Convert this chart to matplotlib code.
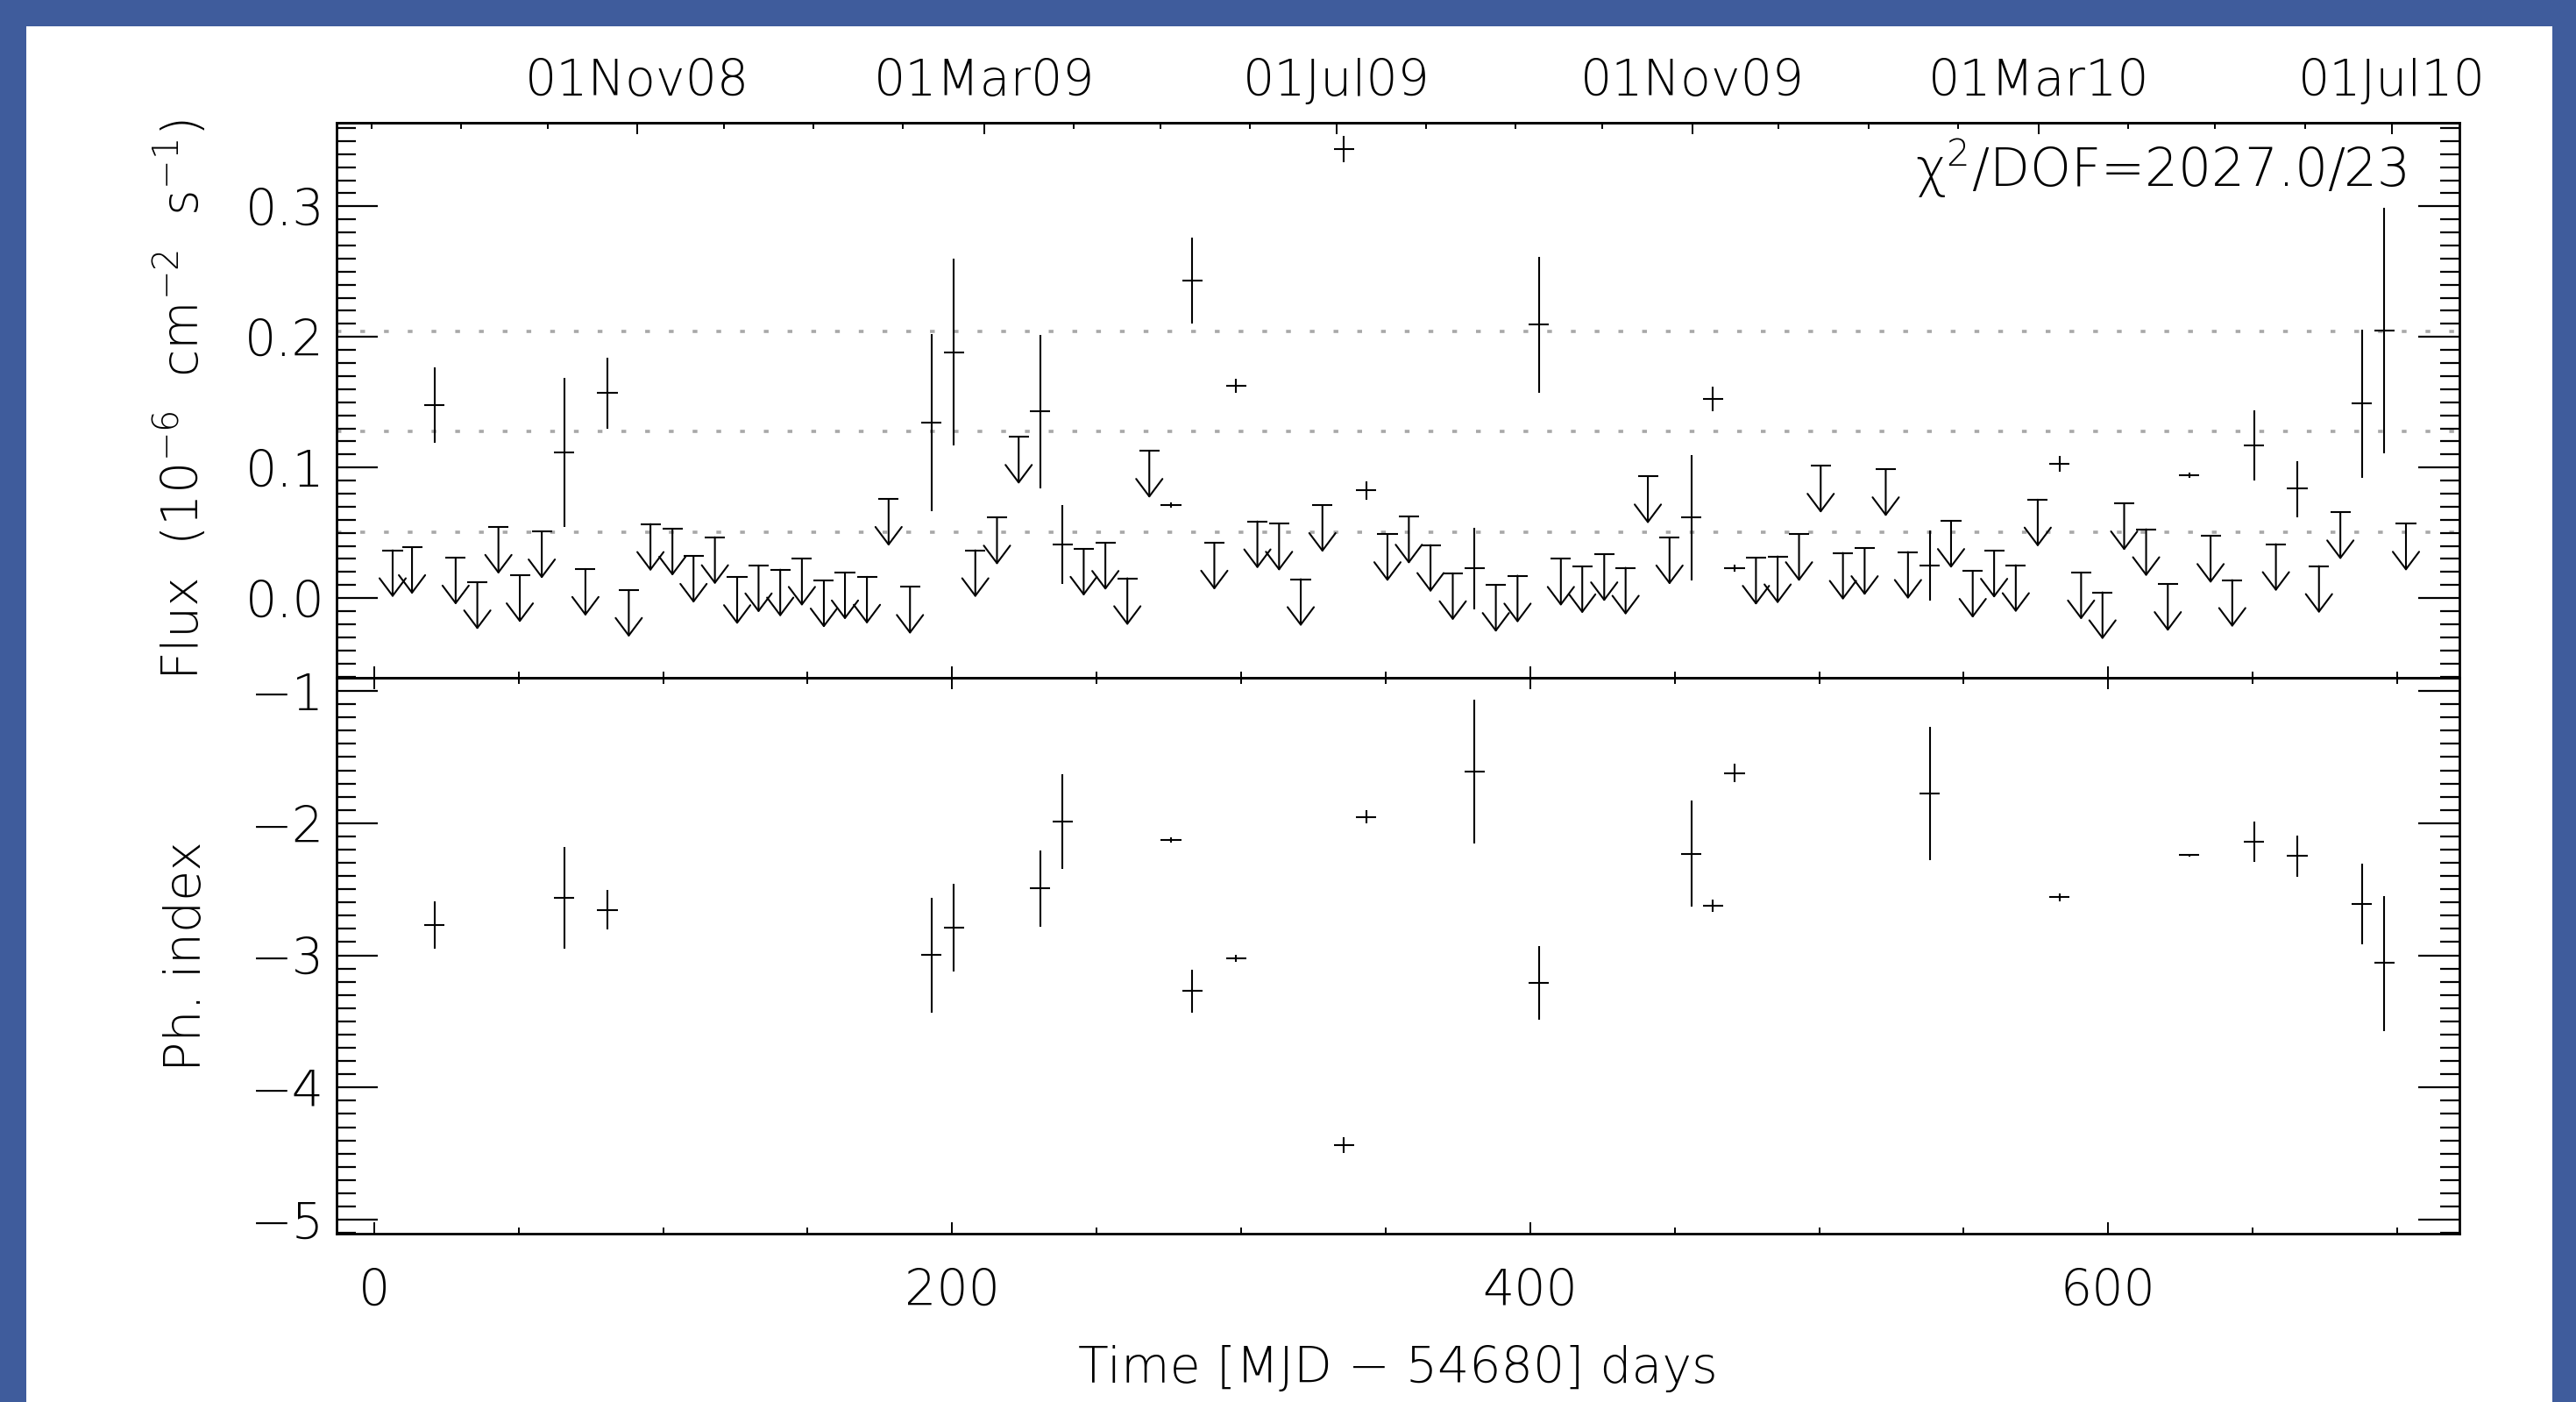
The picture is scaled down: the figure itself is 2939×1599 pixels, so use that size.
import datetime as dt
import numpy as np
import matplotlib
matplotlib.use("Agg")
import matplotlib.pyplot as plt
from matplotlib import font_manager
from matplotlib.patches import Rectangle

# weekly upper limits (days since MJD 54680, flux 1e-6 ph cm-2 s-1)
ul_days = [6.4, 13.1, 28.2, 35.7, 43.0, 50.4, 58.0, 73.1, 88.1, 95.6, 103.2, 110.5,
           117.9, 125.6, 133.0, 140.5, 148.0, 155.6, 162.9, 170.5, 178.0, 185.4,
           208.0, 215.5, 223.0, 245.5, 253.0, 260.6, 268.2, 290.7, 305.6, 313.1,
           320.6, 328.1, 350.6, 358.0, 365.5, 373.2, 388.1, 395.6, 410.6, 418.0,
           425.6, 433.0, 440.7, 448.2, 478.1, 485.6, 493.0, 500.5, 508.2, 515.7,
           523.0, 530.7, 545.6, 553.1, 560.5, 568.0, 575.6, 590.6, 598.0, 605.5,
           613.1, 620.6, 635.4, 642.9, 658.0, 672.9, 680.3, 703.0]
ul_flux = [0.0366, 0.039, 0.031, 0.012, 0.0545, 0.0174, 0.051, 0.0223, 0.0062, 0.0567,
           0.0531, 0.0323, 0.0466, 0.016, 0.025, 0.0218, 0.030, 0.0134, 0.0196, 0.0163,
           0.0759, 0.0085, 0.0366, 0.0616, 0.1234, 0.0377, 0.0422, 0.0152, 0.1127,
           0.0424, 0.0587, 0.0569, 0.0145, 0.0712, 0.0489, 0.0623, 0.0406, 0.019,
           0.010, 0.0172, 0.030, 0.0243, 0.0335, 0.0232, 0.0931, 0.0464, 0.0308,
           0.0319, 0.0489, 0.1013, 0.0346, 0.0382, 0.0986, 0.0353, 0.059, 0.0208,
           0.0362, 0.0252, 0.0754, 0.0196, 0.0044, 0.0725, 0.0527, 0.0107, 0.0475,
           0.0138, 0.0413, 0.0245, 0.0656, 0.0569]

# detections
det_days = [20.9, 65.7, 80.7, 192.9, 200.6, 230.4, 238.2, 275.7, 283.0, 298.2, 335.5,
            343.2, 380.7, 403.0, 455.7, 463.2, 470.7, 538.2, 583.1, 628.0, 650.5,
            665.4, 687.8, 695.5]
det_flux = [0.148, 0.1116, 0.157, 0.1345, 0.188, 0.1428, 0.0413, 0.0712, 0.2433,
            0.1623, 0.3438, 0.0826, 0.0228, 0.2098, 0.0616, 0.1527, 0.0228, 0.0252,
            0.1027, 0.0942, 0.1172, 0.0837, 0.1491, 0.205]
det_lo = [0.119, 0.0547, 0.1295, 0.0665, 0.117, 0.0841, 0.0111, 0.069, 0.2103, 0.157,
          0.334, 0.0756, -0.0085, 0.157, 0.0138, 0.1434, 0.020, -0.0018, 0.0967,
          0.0922, 0.0904, 0.062, 0.0922, 0.111]
det_hi = [0.177, 0.1685, 0.184, 0.202, 0.260, 0.2013, 0.0714, 0.0734, 0.2763, 0.1677,
          0.354, 0.0896, 0.054, 0.2616, 0.1094, 0.162, 0.0256, 0.052, 0.1087, 0.0962,
          0.1435, 0.1049, 0.2054, 0.2987]

# photon index for the detections
idx_val = [-2.771, -2.564, -2.655, -2.996, -2.79, -2.493, -1.99, -2.127, -3.266, -3.021,
           -4.434, -1.952, -1.608, -3.208, -2.232, -2.625, -1.621, -1.775, -2.559,
           -2.243, -2.139, -2.249, -2.609, -3.057]
idx_lo = [-2.947, -2.952, -2.804, -3.433, -3.125, -2.787, -2.347, -2.147, -3.433, -3.048,
          -4.494, -2.0, -2.155, -3.488, -2.633, -2.67, -1.69, -2.281, -2.59, -2.255,
          -2.29, -2.405, -2.914, -3.571]
idx_hi = [-2.595, -2.182, -2.507, -2.562, -2.46, -2.204, -1.633, -2.107, -3.106, -2.994,
          -4.374, -1.90, -1.064, -2.928, -1.83, -2.58, -1.55, -1.27, -2.53, -2.231,
          -1.99, -2.095, -2.306, -2.551]

flux_levels = [0.0503, 0.1275, 0.204]
bin_half = 3.5
chi_text = "\u03c7$^{2}$/DOF=2027.0/23"

mjd0 = dt.date(2008, 8, 2)  # MJD 54680
date_labels = ["01Nov08", "01Mar09", "01Jul09", "01Nov09", "01Mar10", "01Jul10"]

# pick a thin font if one is installed (wide ones first)
font = "Roboto"
for fam in ["DejaVu Sans", "Inter", "Open Sans", "Noto Sans", "Roboto", "Lato"]:
    ok = [f for f in font_manager.fontManager.ttflist
          if f.name == fam and isinstance(f.weight, int) and f.weight <= 300
          and f.style == "normal"]
    if ok:
        font = fam
        break
plt.rcParams["font.family"] = [font, "DejaVu Sans"]
plt.rcParams["font.weight"] = "light"
plt.rcParams["axes.labelweight"] = "light"
plt.rcParams["font.size"] = 41
plt.rcParams["mathtext.fontset"] = "custom"
plt.rcParams["mathtext.rm"] = font + ":light"
plt.rcParams["mathtext.it"] = font + ":light:italic"

fig = plt.figure(figsize=(29.39, 15.99), dpi=100)
fig.patch.set_facecolor("#3f5c9c")
fig.patches.append(Rectangle((30 / 2939, 0), 2882 / 2939, 1 - 30 / 1599,
                             transform=fig.transFigure, facecolor="white",
                             edgecolor="none", zorder=-10))

left, width = 384 / 2939, 2422 / 2939
ax1 = fig.add_axes([left, 1 - 773 / 1599, width, 633 / 1599])
ax2 = fig.add_axes([left, 1 - 1407 / 1599, width, 634 / 1599], sharex=ax1)
for ax in (ax1, ax2):
    ax.set_facecolor("none")
    for s in ax.spines.values():
        s.set_linewidth(2.0)

lw = 1.5
# flux panel
for lev in flux_levels:
    ax1.axhline(lev, color="#a8a8a8", lw=2.6, dashes=(1.5, 6.0), zorder=1)
ax1.errorbar(det_days, det_flux,
             yerr=[np.subtract(det_flux, det_lo), np.subtract(det_hi, det_flux)],
             xerr=bin_half, fmt="none", ecolor="black", elinewidth=lw, capsize=0)
ax1.errorbar(ul_days, ul_flux, xerr=bin_half, fmt="none", ecolor="black",
             elinewidth=lw, capsize=0)
arrow_len = 0.036
for d, f in zip(ul_days, ul_flux):
    ax1.annotate("", xy=(d, f - arrow_len), xytext=(d, f),
                 arrowprops=dict(arrowstyle="->,head_length=0.4,head_width=0.3",
                                 lw=lw, color="black", shrinkA=0, shrinkB=0,
                                 mutation_scale=36))
ax1.set_ylim(-0.061, 0.364)
ax1.set_yticks([0.0, 0.1, 0.2, 0.3])
ax1.set_yticklabels(["0.0", "0.1", "0.2", "0.3"])
ax1.set_yticks(np.arange(-0.06, 0.365, 0.01), minor=True)
ax1.set_ylabel(r"Flux  (10$^{-6}$  cm$^{-2}$  s$^{-1}$)")
ax1.yaxis.set_label_coords(-0.060, 0.5)
ax1.text(0.975, 0.885, chi_text, transform=ax1.transAxes, ha="right", va="baseline",
         fontsize=43)

# photon index panel
ax2.errorbar(det_days, idx_val,
             yerr=[np.subtract(idx_val, idx_lo), np.subtract(idx_hi, idx_val)],
             xerr=bin_half, fmt="none", ecolor="black", elinewidth=lw, capsize=0)
ax2.set_ylim(-5.106, -0.9)
ax2.set_yticks([-1, -2, -3, -4, -5])
ax2.set_yticks(np.arange(-5.1, -0.85, 0.1), minor=True)
ax2.set_ylabel("Ph. index")
ax2.yaxis.set_label_coords(-0.059, 0.5)

ax2.set_xlim(-13, 721.5)
ax2.set_xticks([0, 200, 400, 600])
ax2.set_xticks(np.arange(0, 721, 50), minor=True)
ax2.set_xlabel("Time [MJD \u2212 54680] days")
ax2.xaxis.set_label_coords(0.5, -0.2)

for ax in (ax1, ax2):
    ax.tick_params(axis="y", which="major", direction="in", length=34, width=1.6,
                   left=True, right=True, pad=10)
    ax.tick_params(axis="y", which="minor", direction="in", length=16, width=1.6,
                   left=True, right=True)
    ax.tick_params(axis="x", which="major", direction="in", length=9.5, width=1.4,
                   top=True, bottom=True, pad=28)
    ax.tick_params(axis="x", which="minor", direction="in", length=5, width=1.4,
                   top=True, bottom=True)
ax1.tick_params(axis="x", which="both", top=False, labelbottom=False)

# calendar axis on top
month_starts = []
for y in (2008, 2009, 2010):
    for m in range(1, 13):
        d = (dt.date(y, m, 1) - mjd0).days
        if -13 <= d <= 721.5:
            month_starts.append(d)
label_days = [(dt.datetime.strptime(s, "%d%b%y").date() - mjd0).days for s in date_labels]
sec = ax1.secondary_xaxis("top")
sec.set_xticks(label_days)
sec.set_xticklabels(date_labels)
sec.set_xticks(month_starts, minor=True)
sec.tick_params(which="major", direction="in", length=9.5, width=1.4, pad=14)
sec.tick_params(which="minor", direction="in", length=5, width=1.4)
sec.spines["top"].set_linewidth(2.0)

fig.savefig("out.png", dpi=100, facecolor=fig.get_facecolor())
